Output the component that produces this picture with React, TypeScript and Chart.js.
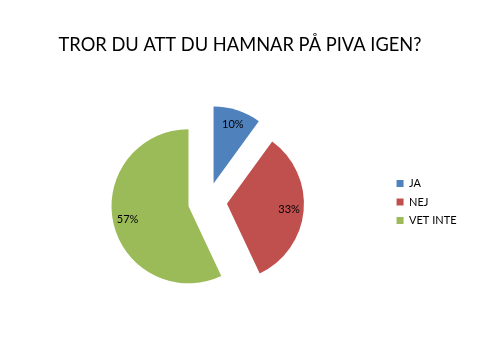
import React, { useEffect, useRef } from "react";
import { Chart, registerables } from "chart.js";

Chart.register(...registerables);

const TITLE = "TROR DU ATT DU HAMNAR PÅ PIVA IGEN?";
const CATEGORIES = ["JA", "NEJ", "VET INTE"];
const VALUES = [10, 33, 57];
const COLORS = ["#4F81BD", "#C0504D", "#9BBB59"];

const FONT = "Lato, 'Open Sans', sans-serif";
const EXPLODE = 19.5; // px each slice is pulled out along its mid-angle
const RADIUS = 77;

// Pull every slice straight out along its bisector (Excel-style explode)
const explodePlugin = {
  id: "explode",
  afterDatasetUpdate(chart: any, args: any) {
    args.meta.data.forEach((arc: any) => {
      const mid = (arc.startAngle + arc.endAngle) / 2;
      arc.x += Math.cos(mid) * EXPLODE;
      arc.y += Math.sin(mid) * EXPLODE;
    });
  },
};

const pctLabels = {
  id: "pctLabels",
  afterDatasetsDraw(chart: any) {
    const ctx = chart.ctx;
    const meta = chart.getDatasetMeta(0);
    const data = chart.data.datasets[0].data as number[];
    const total = data.reduce((a, b) => a + b, 0);
    ctx.save();
    ctx.font = `11px ${FONT}`;
    ctx.fillStyle = "#000";
    ctx.textAlign = "center";
    ctx.textBaseline = "middle";
    meta.data.forEach((arc: any, i: number) => {
      const mid = (arc.startAngle + arc.endAngle) / 2;
      const r = 0.81 * arc.outerRadius;
      ctx.fillText(Math.round((data[i] / total) * 100) + "%", arc.x + Math.cos(mid) * r, arc.y + Math.sin(mid) * r);
    });
    ctx.restore();
  },
};

const titlePlugin = {
  id: "centerTitle",
  afterDraw(chart: any) {
    const ctx = chart.ctx;
    ctx.save();
    ctx.font = `18.3px ${FONT}`;
    ctx.fillStyle = "#000";
    ctx.textAlign = "center";
    ctx.textBaseline = "middle";
    ctx.fillText(TITLE, chart.width / 2, 45);
    ctx.restore();
  },
};

export default function App() {
  const ref = useRef<HTMLCanvasElement | null>(null);
  useEffect(() => {
    if (!ref.current) return;
    const chart = new Chart(ref.current, {
      type: "pie",
      data: {
        labels: CATEGORIES,
        datasets: [
          {
            data: VALUES,
            backgroundColor: COLORS,
            borderColor: COLORS,
            borderWidth: 0,
          } as any,
        ],
      },
      options: {
        responsive: false,
        animation: false,
        devicePixelRatio: 1,
        radius: RADIUS,
        layout: { padding: { left: 26, right: 13.5, top: 66, bottom: 22 } },
        plugins: {
          title: { display: false },
          legend: {
            position: "right",
            align: "center",
            fullSize: false,
            labels: {
              boxWidth: 7,
              boxHeight: 7,
              padding: 7.5,
              color: "#000",
              font: { family: FONT, size: 11 },
            },
          },
          tooltip: { enabled: false },
        },
      } as any,
      plugins: [explodePlugin, pctLabels, titlePlugin],
    });
    return () => chart.destroy();
  }, []);
  return (
    <div style={{ position: "absolute", left: 0, top: 0, width: 480, height: 360, background: "#fff" }}>
      <canvas ref={ref} width={480} height={360} />
    </div>
  );
}
